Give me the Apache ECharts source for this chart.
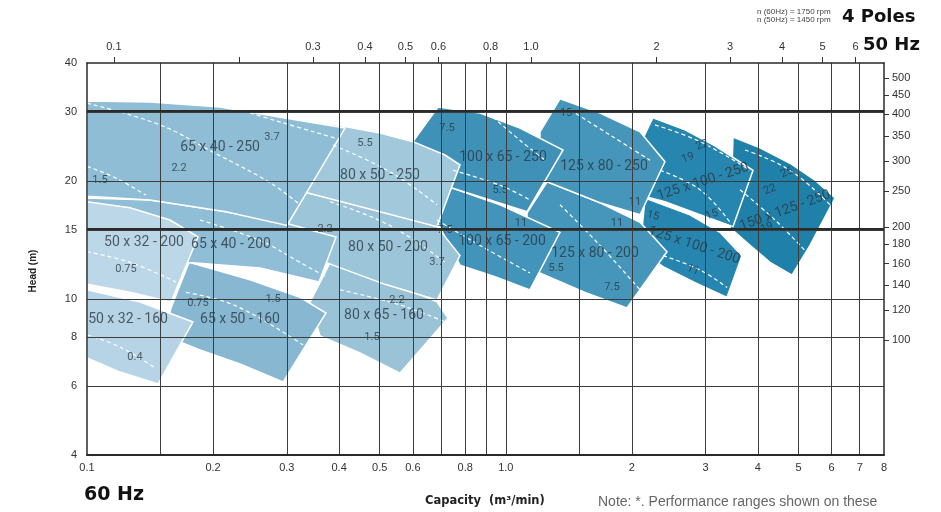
<!DOCTYPE html>
<html><head><meta charset="utf-8">
<script src="https://cdn.jsdelivr.net/npm/echarts@6/dist/echarts.min.js"></script>
<style>html,body{margin:0;padding:0;background:#fff}#c{width:941px;height:512px}</style>
</head><body><div id="c"></div>
<script>
// ---- axis ticks (real units) ----
const bottomLabels = [0.1,0.2,0.3,0.4,0.5,0.6,0.8,1.0,2,3,4,5,6,7,8];
const bottomGrid = [0.15,0.2,0.3,0.4,0.5,0.6,0.7,0.8,0.9,1.0,1.5,2,3,4,5,6,7];
const topLabels = [0.1,0.3,0.4,0.5,0.6,0.8,1.0,2,3,4,5,6];
const topTicks = [0.1,0.2,0.3,0.4,0.5,0.6,0.8,1.0,2,3,4,5,6];
const leftLabels = [4,6,8,10,15,20,30,40];
const leftGrid = [6,8,10,15,20,30];
const rightLabels = [100,120,140,160,180,200,250,300,350,400,450,500];

// ---- pump ranges: [capacity m3/min (60Hz), head m] ----
const p50x32_200 = [[0.1,17.7],[0.1267,17.1],[0.1579,15.9],[0.1841,14.4],[0.1587,9.83],[0.1267,10.4],[0.1,10.9]];
const p50x32_160 = [[0.1,10.55],[0.1339,9.83],[0.1791,8.74],[0.1478,6.07],[0.1199,6.51],[0.1,7.07]];
const p65x40_250 = [[0.1,32.0],[0.1414,31.8],[0.2078,30.9],[0.2889,29.1],[0.4131,27.3],[0.3003,15.4],[0.2147,16.7],[0.1414,17.9],[0.1,18.3]];
const p65x40_200 = [[0.1,18.1],[0.1414,17.9],[0.2147,16.7],[0.2987,15.6],[0.3932,14.4],[0.3581,11.05],[0.2589,12.0],[0.1752,12.4],[0.1,13.2]];
const p65x50_160 = [[0.1752,12.4],[0.2450,11.2],[0.3225,10.1],[0.3722,9.21],[0.2938,6.14],[0.2319,6.83],[0.1861,7.41],[0.1536,8.05],[0.1587,9.49]];
const p80x50_250 = [[0.3804,28.0],[0.5007,26.5],[0.6004,25.2],[0.7158,23.3],[0.7775,22.0],[0.6850,15.3],[0.5007,16.7],[0.3335,18.7],[0.3600,22.6]];
const p80x50_200 = [[0.3335,18.7],[0.4739,17.1],[0.6850,15.3],[0.7775,12.9],[0.6850,9.94],[0.5148,10.9],[0.3867,12.2],[0.3225,13.2],[0.3003,15.4]];
const p80x65_160 = [[0.3867,12.8],[0.5007,11.4],[0.6850,9.83],[0.7278,8.94],[0.5589,6.47],[0.4486,7.28],[0.3600,8.05],[0.3410,9.83]];
const p100x65_250 = [[0.6888,30.9],[0.8678,29.8],[1.081,27.3],[1.370,24.0],[1.124,16.7],[0.9168,17.9],[0.7439,19.2],[0.6004,25.2]];
const p100x65_200 = [[0.7439,19.2],[0.9687,17.4],[1.347,14.8],[1.142,10.55],[0.9424,11.4],[0.7775,12.2],[0.6775,16.1],[0.6964,17.9]];
const p125x80_250 = [[1.347,32.4],[1.679,29.8],[2.092,26.7],[2.399,22.4],[2.092,16.4],[1.679,17.6],[1.255,19.9],[1.207,19.8],[1.207,26.7]];
const p125x80_200 = [[1.255,19.9],[1.679,17.6],[2.092,15.7],[2.426,13.2],[1.947,9.49],[1.546,10.4],[1.194,11.7],[1.124,14.1],[1.124,16.6]];
const p125x100_250 = [[2.246,29.0],[2.679,27.0],[3.159,24.6],[3.894,21.3],[3.488,15.3],[2.909,16.4],[2.399,17.7],[2.092,18.4],[2.126,25.7]];
const p125x100_200 = [[2.150,18.1],[2.753,16.4],[3.247,14.8],[3.664,12.9],[3.375,10.1],[2.830,11.0],[2.374,12.1],[2.092,13.3]];
const p150x125_250 = [[3.488,25.9],[4.046,24.3],[4.771,22.2],[5.475,20.1],[6.111,18.1],[5.327,13.7],[4.824,11.5],[4.275,12.4],[3.830,13.7],[3.431,15.2]];

// pump names and label anchor points
const pumpNames = ['50 x 32 - 200','50 x 32 - 160','65 x 40 - 250','65 x 40 - 200','65 x 50 - 160','80 x 50 - 250','80 x 50 - 200','80 x 65 - 160','100 x 65 - 250','100 x 65 - 200','125 x 80 - 250','125 x 80 - 200','125 x 100 - 250','125 x 100 - 200','150 x 125 - 250'];
const pumpLabelQ = [0.1368,0.1253,0.2078,0.2207,0.2319,0.5007,0.5233,0.5119,0.9847,0.9793,1.716,1.633,2.957,2.815,4.642];
const pumpLabelH = [13.9,8.89,24.3,13.8,8.84,20.7,13.5,9.10,23.0,14.0,21.8,13.1,19.9,13.7,16.8];

// impeller trim curves (dashed)
const trimCurves = [
  [[0.1,21.8],[0.1167,20.4],[0.1383,18.4]],
  [[0.1,31.6],[0.1494,27.8],[0.1999,23.7],[0.2735,19.8],[0.3225,17.4]],
  [[0.2195,30.9],[0.2889,28.3],[0.3932,25.7]],
  [[0.1861,15.9],[0.2589,14.1],[0.3225,12.4],[0.3722,11.4]],
  [[0.1,13.2],[0.1267,12.4],[0.1632,11.05]],
  [[0.1,8.10],[0.1199,7.54],[0.1454,6.67]],
  [[0.1724,10.4],[0.2269,9.60],[0.3281,7.63]],
  [[0.3867,24.7],[0.5291,21.1],[0.6850,17.4]],
  [[0.3804,17.7],[0.5291,15.4],[0.7158,12.4]],
  [[0.4019,10.55],[0.5589,9.66],[0.7158,8.74]],
  [[0.9321,29.1],[1.081,25.4],[1.241,22.6]],
  [[0.7480,21.3],[0.9687,19.5],[1.142,17.9]],
  [[0.6850,15.9],[0.8678,13.7],[1.142,11.65]],
  [[1.424,30.35],[1.774,26.2],[2.210,22.6]],
  [[1.347,17.4],[1.679,13.7],[2.092,10.55]],
  [[2.271,27.8],[2.909,25.2],[3.830,21.3]],
  [[2.335,21.3],[2.909,19.0],[3.431,15.7]],
  [[2.374,12.9],[2.909,11.86],[3.375,10.7]],
  [[3.726,24.0],[4.771,21.3],[5.944,17.4]],
  [[3.625,19.0],[4.394,15.9],[5.181,13.3]]
];

// motor kW labels
const trimText = ['1.5','2.2','3.7','0.75','0.4','0.75','1.5','5.5','2.2','3.7','2.2','1.5','7.5','5.5','7.5','11','15','11','11','5.5','7.5','22','19','15','15','11','25','22','19'];
const trimQ = [0.1074,0.1659,0.2765,0.1239,0.1302,0.1841,0.2781,0.4611,0.3701,0.6850,0.5498,0.4791,0.7238,0.9687,0.7158,1.087,1.393,2.035,1.843,1.319,1.793,2.941,2.723,3.107,2.246,2.799,4.693,4.275,4.205];
const trimH = [20.1,21.5,25.9,11.9,7.11,9.77,10.0,25.0,15.1,12.4,9.94,8.00,27.3,18.9,15.0,15.6,29.8,17.7,15.6,12.0,10.7,24.7,22.9,16.4,16.3,11.86,21.0,19.0,15.2];

// ---- styles ----
const regions = [p50x32_200,p50x32_160,p65x40_250,p65x40_200,p65x50_160,p80x50_250,p80x50_200,p80x65_160,p100x65_250,p100x65_200,p125x80_250,p125x80_200,p125x100_250,p125x100_200,p150x125_250];
const regionColors = ['#bcd8e8','#b6d4e5','#8ebdd5','#90bed6','#87b7d1','#a2c8dc','#9dc5da','#9ac3d8','#3f91b8','#4394ba','#4696bb','#4696bb','#2786af','#2786af','#1f81aa'];
const drawOrder = [14,13,12,11,10,9,8,7,6,5,4,3,2,1,0];
const pumpRotate = [0,0,0,0,0,0,0,0,0,0,0,0,18,-18,20];
const trimRotate = [0,0,0,0,0,0,0,0,0,0,0,0,0,0,0,0,0,0,0,0,0,20,20,20,-15,-20,22,22,22];

const L = Math.log10;
const fmt = arr => v => { const hit = arr.find(a => Math.abs(L(a) - v) < 1e-6); return hit === undefined ? '' : (hit === 1 ? '1.0' : String(hit)); };
const toXY = p => [L(p[0]), L(p[1])];
const ink = '#2b3944';

const series = [];
drawOrder.forEach(idx => {
  const pts = regions[idx];
  series.push({
    type: 'custom', name: pumpNames[idx], coordinateSystem: 'cartesian2d', silent: true, z: 2,
    data: pts.map(toXY), encode: {x: 0, y: 1},
    renderItem: (params, api) => {
      if (params.dataIndex !== 0) return null;
      const coords = pts.map(p => api.coord(toXY(p)));
      return {type: 'polygon', shape: {points: coords}, style: {fill: regionColors[idx], stroke: '#ffffff', lineWidth: 1.5}};
    }
  });
});
trimCurves.forEach(c => {
  series.push({type: 'line', data: c.map(toXY), smooth: 0.4, showSymbol: false, silent: true, z: 3,
    lineStyle: {color: '#ffffff', width: 1.2, type: [4, 3]}});
});
series.push({
  type: 'scatter', symbolSize: 0, silent: true, z: 5,
  data: pumpNames.map((n, i) => ({name: n, value: [L(pumpLabelQ[i]), L(pumpLabelH[i])], label: {rotate: pumpRotate[i]}})),
  label: {show: true, position: 'inside', formatter: p => p.name, fontSize: 14, color: ink, fontFamily: 'Roboto'}
});
series.push({
  type: 'scatter', symbolSize: 0, silent: true, z: 5,
  data: trimText.map((t, i) => ({name: t, value: [L(trimQ[i]), L(trimH[i])], label: {rotate: trimRotate[i]}})),
  label: {show: true, position: 'inside', formatter: p => p.name, fontSize: 11, color: ink, fontFamily: 'Roboto'},
  markLine: {silent: true, symbol: 'none', z: 12, label: {show: false}, lineStyle: {color: '#2a2a2a', width: 2, type: 'solid'},
    data: [{yAxis: L(30)}, {yAxis: L(15)}]}
});

const axisInk = '#2a2a2a';
const tickFont = {fontSize: 11, color: '#333', fontFamily: 'Liberation Sans'};
const heavy = '"DejaVu Sans", "Liberation Sans", sans-serif';
const option = {
  animation: false,
  backgroundColor: '#ffffff',
  grid: {left: 87, right: 57, top: 63, bottom: 57},
  title: [
    {text: 'n (60Hz) = 1750 rpm\nn (50Hz) = 1450 rpm', left: 757, top: 8, padding: 0, textStyle: {fontSize: 8, fontWeight: 'normal', color: '#444', lineHeight: 8, fontFamily: 'Liberation Sans'}},
    {text: '4 Poles', left: 842, top: 8, padding: 0, textStyle: {fontSize: 18, fontWeight: 'bold', color: '#111', fontFamily: heavy}},
    {text: '50 Hz', left: 863, top: 36, padding: 0, textStyle: {fontSize: 18, fontWeight: 'bold', color: '#111', fontFamily: heavy}},
    {text: '60 Hz', left: 84, top: 486, padding: 0, textStyle: {fontSize: 19, fontWeight: 'bold', color: '#111', fontFamily: heavy}},
    {text: 'Capacity  (m³/min)', left: 425, top: 495, padding: 0, textStyle: {fontSize: 11.5, fontWeight: 'bold', color: '#222', fontFamily: heavy}},
    {text: 'Note: *. Performance ranges shown on these', left: 598, top: 495, padding: 0, textStyle: {fontSize: 14, fontWeight: 'normal', color: '#666', fontFamily: 'Liberation Sans'}}
  ],
  graphic: [
    {type: 'text', x: 33, y: 271, rotation: Math.PI / 2, style: {text: 'Head (m)', font: 'bold 10px "Liberation Sans"', fill: '#222', textAlign: 'center', textVerticalAlign: 'middle'}}
  ],
  xAxis: [
    {type: 'value', position: 'bottom', min: L(0.1), max: L(8), z: 10,
      axisLine: {show: true, onZero: false, lineStyle: {color: axisInk, width: 2}},
      axisTick: {show: false, customValues: bottomGrid.map(L)},
      splitLine: {show: true, lineStyle: {color: '#3c3c3c', width: 1}},
      axisLabel: Object.assign({customValues: bottomLabels.map(L), formatter: fmt(bottomLabels), margin: 7}, tickFont)},
    {type: 'value', position: 'top', min: L(0.0862), max: L(7.02), z: 10,
      axisLine: {show: true, onZero: false, lineStyle: {color: axisInk, width: 1.5}},
      axisTick: {show: true, inside: false, length: 6, customValues: topTicks.map(L), lineStyle: {color: '#333'}},
      splitLine: {show: false},
      axisLabel: Object.assign({customValues: topLabels.map(L), formatter: fmt(topLabels), margin: 11}, tickFont)}
  ],
  yAxis: [
    {type: 'value', position: 'left', min: L(4), max: L(40), z: 10,
      axisLine: {show: true, onZero: false, lineStyle: {color: axisInk, width: 1.5}},
      axisTick: {show: false, customValues: leftGrid.map(L)},
      splitLine: {show: true, lineStyle: {color: '#3c3c3c', width: 1}},
      axisLabel: Object.assign({customValues: leftLabels.map(L), formatter: fmt(leftLabels), margin: 10}, tickFont)},
    {type: 'value', position: 'right', min: L(49.4), max: L(548), z: 10,
      axisLine: {show: true, onZero: false, lineStyle: {color: axisInk, width: 1.5}},
      axisTick: {show: true, inside: false, length: 5, customValues: rightLabels.map(L), lineStyle: {color: '#333'}},
      splitLine: {show: false},
      axisLabel: Object.assign({customValues: rightLabels.map(L), formatter: fmt(rightLabels), margin: 8}, tickFont)}
  ],
  series: series
};
const chart = echarts.init(document.getElementById('c'), null, {renderer: 'canvas'});
chart.setOption(option);
</script>
</body></html>
